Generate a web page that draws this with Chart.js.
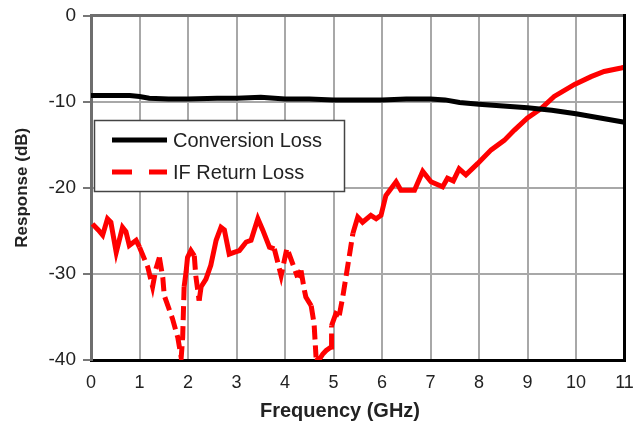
<!DOCTYPE html>
<html>
<head>
<meta charset="utf-8">
<script src="https://cdn.jsdelivr.net/npm/chart.js@4/dist/chart.umd.min.js"></script>
<style>
  html, body { margin: 0; padding: 0; background: #fff; }
  #wrap { width: 637px; height: 426px; }
</style>
</head>
<body>
<div id="wrap"><canvas id="chart" width="637" height="426"></canvas></div>
<script>
// Conversion loss (dB) vs frequency (GHz)
const convFreq = [0, 0.5, 0.8, 1.0, 1.2, 1.6, 2.0, 2.6, 3.0, 3.5, 4.0, 4.5, 5.0, 5.5, 6.0, 6.5, 7.0, 7.3, 7.6, 8.0, 8.5, 9.0, 9.5, 10.0, 10.5, 11.0];
const convLoss = [-9.3, -9.3, -9.3, -9.4, -9.6, -9.7, -9.7, -9.6, -9.6, -9.5, -9.7, -9.7, -9.8, -9.8, -9.8, -9.7, -9.7, -9.8, -10.1, -10.3, -10.5, -10.7, -11.0, -11.4, -11.9, -12.4];

// IF return loss (dB) vs frequency (GHz)
const rlFreq = [0.03, 0.15, 0.24, 0.34, 0.41, 0.52, 0.65, 0.72, 0.79, 0.93, 1.00, 1.17, 1.27, 1.34, 1.41, 1.48, 1.51, 1.68, 1.79, 1.86, 1.89, 1.92, 1.96, 1.99, 2.06, 2.13, 2.16, 2.23, 2.27, 2.37, 2.47, 2.58, 2.68, 2.75, 2.85, 2.95, 3.06, 3.20, 3.30, 3.44, 3.54, 3.68, 3.78, 3.92, 4.04, 4.26, 4.33, 4.40, 4.43, 4.54, 4.60, 4.64, 4.70, 4.78, 4.85, 4.95, 4.96, 5.05, 5.12, 5.19, 5.29, 5.40, 5.50, 5.60, 5.77, 5.88, 5.98, 6.08, 6.29, 6.39, 6.67, 6.84, 7.01, 7.25, 7.35, 7.47, 7.59, 7.73, 7.97, 8.25, 8.52, 8.73, 9.00, 9.28, 9.55, 9.97, 10.31, 10.58, 10.93, 11.0];
const returnLoss = [-24.2, -24.9, -25.5, -23.6, -24.0, -27.5, -24.6, -25.1, -26.7, -26.1, -26.9, -29.2, -31.5, -29.4, -28.1, -30.4, -32.5, -35.2, -37.4, -39.7, -37.4, -31.5, -29.8, -28.1, -27.3, -27.9, -30.2, -33.1, -31.5, -30.6, -29.0, -26.1, -24.6, -24.9, -27.7, -27.5, -27.3, -26.3, -26.1, -23.6, -24.9, -26.9, -27.1, -30.2, -27.0, -30.4, -29.6, -31.9, -32.7, -33.7, -35.8, -39.7, -40.0, -39.3, -38.9, -38.5, -36.0, -34.6, -34.8, -32.7, -29.2, -25.3, -23.4, -24.0, -23.2, -23.6, -23.2, -20.9, -19.3, -20.3, -20.3, -18.1, -19.3, -19.9, -18.9, -19.2, -17.8, -18.5, -17.2, -15.6, -14.5, -13.3, -11.9, -10.8, -9.4, -8.0, -7.1, -6.5, -6.1, -6.0];

const yTicks = [0, -10, -20, -30, -40];
const seriesNames = ["Conversion Loss", "IF Return Loss"];
const xTitle = "Frequency (GHz)";

const FONT = "'Liberation Sans', Arial, sans-serif";

const toPoints = (xs, ys) => xs.map((x, i) => ({ x, y: ys[i] }));

// long steep segments down low show the dash gaps, short ones look solid
function segDash(ctx) {
    const dx = ctx.p1.x - ctx.p0.x;
    const dy = ctx.p1.y - ctx.p0.y;
    const len = Math.sqrt(dx * dx + dy * dy);
    const low = Math.min(ctx.p0.parsed.y, ctx.p1.parsed.y);
    return (len > 16 && low < -29) ? [14, 6] : undefined;
}

const framePlugin = {
    id: "frame",
    afterDatasetsDraw(chart) {
        const { ctx, chartArea: a } = chart;
        ctx.save();
        ctx.lineWidth = 3;
        ctx.strokeStyle = "#6e6e6e";
        ctx.beginPath();
        ctx.moveTo(a.left, a.top);
        ctx.lineTo(a.right, a.top);
        ctx.stroke();
        ctx.strokeStyle = "#000";
        ctx.beginPath();
        ctx.moveTo(a.right, a.top - 1.5);
        ctx.lineTo(a.right, a.bottom);
        ctx.stroke();
        ctx.restore();
    },
};

const legendPlugin = {
    id: "boxLegend",
    afterDraw(chart) {
        const { ctx } = chart;
        const x0 = 94.5, y0 = 120.5, w = 250, h = 71;
        ctx.save();
        ctx.fillStyle = "#fff";
        ctx.fillRect(x0, y0, w, h);
        ctx.strokeStyle = "#444";
        ctx.lineWidth = 1.5;
        ctx.strokeRect(x0, y0, w, h);

        ctx.lineWidth = 5;
        ctx.strokeStyle = "#000";
        ctx.beginPath();
        ctx.moveTo(112, 140);
        ctx.lineTo(167, 140);
        ctx.stroke();

        ctx.strokeStyle = "#ff0000";
        ctx.setLineDash([20, 17]);
        ctx.beginPath();
        ctx.moveTo(112, 172);
        ctx.lineTo(167, 172);
        ctx.stroke();
        ctx.setLineDash([]);

        ctx.fillStyle = "#222";
        ctx.font = "20px " + FONT;
        ctx.textBaseline = "middle";
        ctx.fillText(seriesNames[0], 173, 141);
        ctx.fillText(seriesNames[1], 173, 173);

        // x axis title, sits a bit left of the plot centre in the original
        ctx.font = "bold 20px " + FONT;
        ctx.textAlign = "center";
        ctx.fillText(xTitle, 340, 411);
        ctx.restore();
    },
};

new Chart(document.getElementById("chart"), {
    type: "scatter",
    data: {
        datasets: [
            {
                label: seriesNames[0],
                data: toPoints(convFreq, convLoss),
                showLine: true,
                borderColor: "#000",
                borderWidth: 5,
                pointRadius: 0,
                tension: 0,
            },
            {
                label: seriesNames[1],
                data: toPoints(rlFreq, returnLoss),
                showLine: true,
                borderColor: "#ff0000",
                borderWidth: 5,
                pointRadius: 0,
                tension: 0,
                segment: { borderDash: segDash },
            },
        ],
    },
    options: {
        responsive: false,
        animation: false,
        layout: { padding: { top: 15.5, right: 12.5, left: 0, bottom: 0 } },
        plugins: {
            legend: { display: false },
            tooltip: { enabled: false },
        },
        scales: {
            x: {
                type: "linear",
                min: 0,
                max: 11,
                afterFit: (s) => {
                    s.height = 66;
                    s.paddingLeft = 0;
                    s.paddingRight = 0;
                },
                ticks: {
                    stepSize: 1,
                    padding: 12,
                    color: "#222",
                    font: { size: 18, family: FONT },
                },
                grid: { color: "#a8a8a8", lineWidth: 2, drawTicks: false },
                border: { color: "#000", width: 3 },
            },
            y: {
                type: "linear",
                min: -40,
                max: 0,
                afterFit: (s) => {
                    s.width = 91;
                    s.paddingTop = 0;
                    s.paddingBottom = 0;
                },
                afterBuildTicks: (s) => { s.ticks = yTicks.map((v) => ({ value: v })); },
                ticks: {
                    padding: 7,
                    color: "#222",
                    font: { size: 19, family: FONT },
                },
                grid: { color: "#a8a8a8", lineWidth: 2, tickLength: 8, tickColor: "#777", tickWidth: 2 },
                border: { color: "#6e6e6e", width: 3 },
                title: {
                    display: true,
                    text: "Response (dB)",
                    color: "#222",
                    font: { size: 17, weight: "bold", family: FONT },
                    padding: { top: 12, bottom: 0 },
                },
            },
        },
    },
    plugins: [framePlugin, legendPlugin],
});
</script>
</body>
</html>
